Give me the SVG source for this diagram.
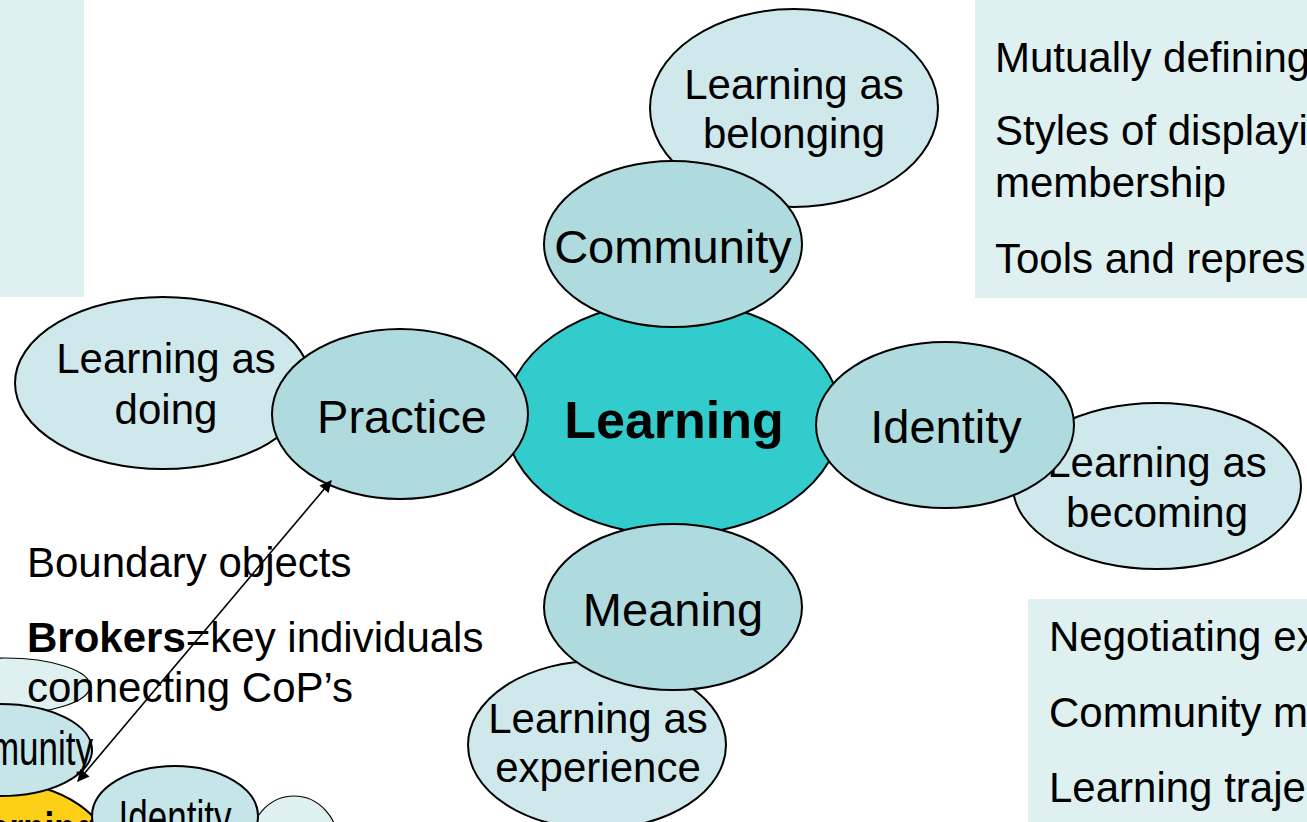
<svg xmlns="http://www.w3.org/2000/svg" width="1307" height="822" viewBox="0 0 1307 822">
<style>
text{font-family:"Liberation Sans",Arial,sans-serif;fill:#000}
.panel{fill:#dff0f0}
.pale{fill:#cfe8eb;stroke:#000;stroke-width:2}
.mid{fill:#b0dbde;stroke:#000;stroke-width:2}
.core{fill:#33cccc;stroke:#000;stroke-width:2}
.mpale{fill:#dff0f0;stroke:#000;stroke-width:1.2}
.mmid{fill:#c5e5e8;stroke:#000;stroke-width:2}
.myel{fill:#fdd017;stroke:#000;stroke-width:2}
.sub{font-size:42px;text-anchor:middle}
.lbl{font-size:47px;text-anchor:middle}
.body{font-size:42px}
.mini{font-size:35px}
.conn{stroke:#000;stroke-width:1.6;fill:none}
</style>
<defs>
<marker id="ah" viewBox="0 0 10 10" refX="9" refY="5" markerWidth="15" markerHeight="12" markerUnits="userSpaceOnUse" orient="auto-start-reverse">
<path d="M0,0 L10,5 L0,10 z" fill="#000"/>
</marker>
</defs>
<g id="panels">
<rect class="panel" x="0" y="0" width="84" height="297"/>
<rect class="panel" x="975" y="0" width="332" height="298"/>
<rect class="panel" x="1028" y="599" width="279" height="223"/>
</g>
<g id="panel-text-top">
<text class="body" x="995" y="72">Mutually defining</text>
<text class="body" x="995" y="145">Styles of displayi</text>
<text class="body" x="995" y="197">membership</text>
<text class="body" x="995" y="273">Tools and repres</text>
</g>
<g id="panel-text-bottom">
<text class="body" x="1049" y="651">Negotiating ex</text>
<text class="body" x="1049" y="727">Community m</text>
<text class="body" x="1049" y="802">Learning traje</text>
</g>
<g id="mini-diagram">
<ellipse class="mpale" cx="5" cy="686" rx="85" ry="28"/>
<ellipse class="myel" cx="0" cy="860" rx="112" ry="78"/>
<g id="mini-learning-text" transform="translate(97,846) scale(1,1.4)"><text class="mini" style="font-weight:bold;text-anchor:end" x="0" y="0">Learning</text></g>
<g id="mini-community">
<ellipse class="mmid" cx="0" cy="750" rx="92" ry="46"/>
<g transform="translate(93,765) scale(1,1.35)"><text class="mini" style="text-anchor:end" x="0" y="0">Community</text></g>
</g>
<ellipse class="mpale" cx="294" cy="846" rx="45" ry="50"/>
<g id="mini-identity">
<ellipse class="mmid" cx="175" cy="816" rx="83" ry="50"/>
<g transform="translate(175,834) scale(1,1.4)"><text class="mini" style="text-anchor:middle" x="0" y="0">Identity</text></g>
</g>
</g>
<g id="node-belonging">
<ellipse class="pale" cx="794" cy="108" rx="144" ry="99"/>
<text class="sub" x="794" y="99">Learning as</text>
<text class="sub" x="794" y="148">belonging</text>
</g>
<g id="node-becoming">
<ellipse class="pale" cx="1157" cy="486" rx="144" ry="83"/>
<text class="sub" x="1157" y="477">Learning as</text>
<text class="sub" x="1157" y="527">becoming</text>
</g>
<g id="node-experience">
<ellipse class="pale" cx="597" cy="745" rx="129" ry="84"/>
<text class="sub" x="598" y="733">Learning as</text>
<text class="sub" x="598" y="782">experience</text>
</g>
<g id="node-doing">
<ellipse class="pale" cx="163" cy="383" rx="148" ry="86"/>
<text class="sub" x="166" y="373">Learning as</text>
<text class="sub" x="166" y="424">doing</text>
</g>
<g id="node-learning">
<ellipse class="core" cx="673" cy="418" rx="168" ry="117"/>
<text x="674" y="438" style="font-size:52px;font-weight:bold;text-anchor:middle">Learning</text>
</g>
<g id="node-community">
<ellipse class="mid" cx="673" cy="244" rx="129" ry="83"/>
<text class="lbl" x="673" y="263">Community</text>
</g>
<g id="node-practice">
<ellipse class="mid" cx="400" cy="414" rx="128" ry="85"/>
<text class="lbl" x="402" y="433">Practice</text>
</g>
<g id="node-identity">
<ellipse class="mid" cx="945" cy="425" rx="129" ry="83"/>
<text class="lbl" x="946" y="443">Identity</text>
</g>
<g id="node-meaning">
<ellipse class="mid" cx="673" cy="607" rx="129" ry="83"/>
<text class="lbl" x="673" y="626">Meaning</text>
</g>
<g id="left-text">
<text class="body" x="27" y="577">Boundary objects</text>
<text class="body" x="27" y="652"><tspan font-weight="bold">Brokers</tspan>=key individuals</text>
<text class="body" x="27" y="702">connecting CoP’s</text>
</g>
<g id="connectors">
<line class="conn" x1="78" y1="781" x2="331" y2="481" marker-start="url(#ah)" marker-end="url(#ah)"/>
</g>
</svg>
